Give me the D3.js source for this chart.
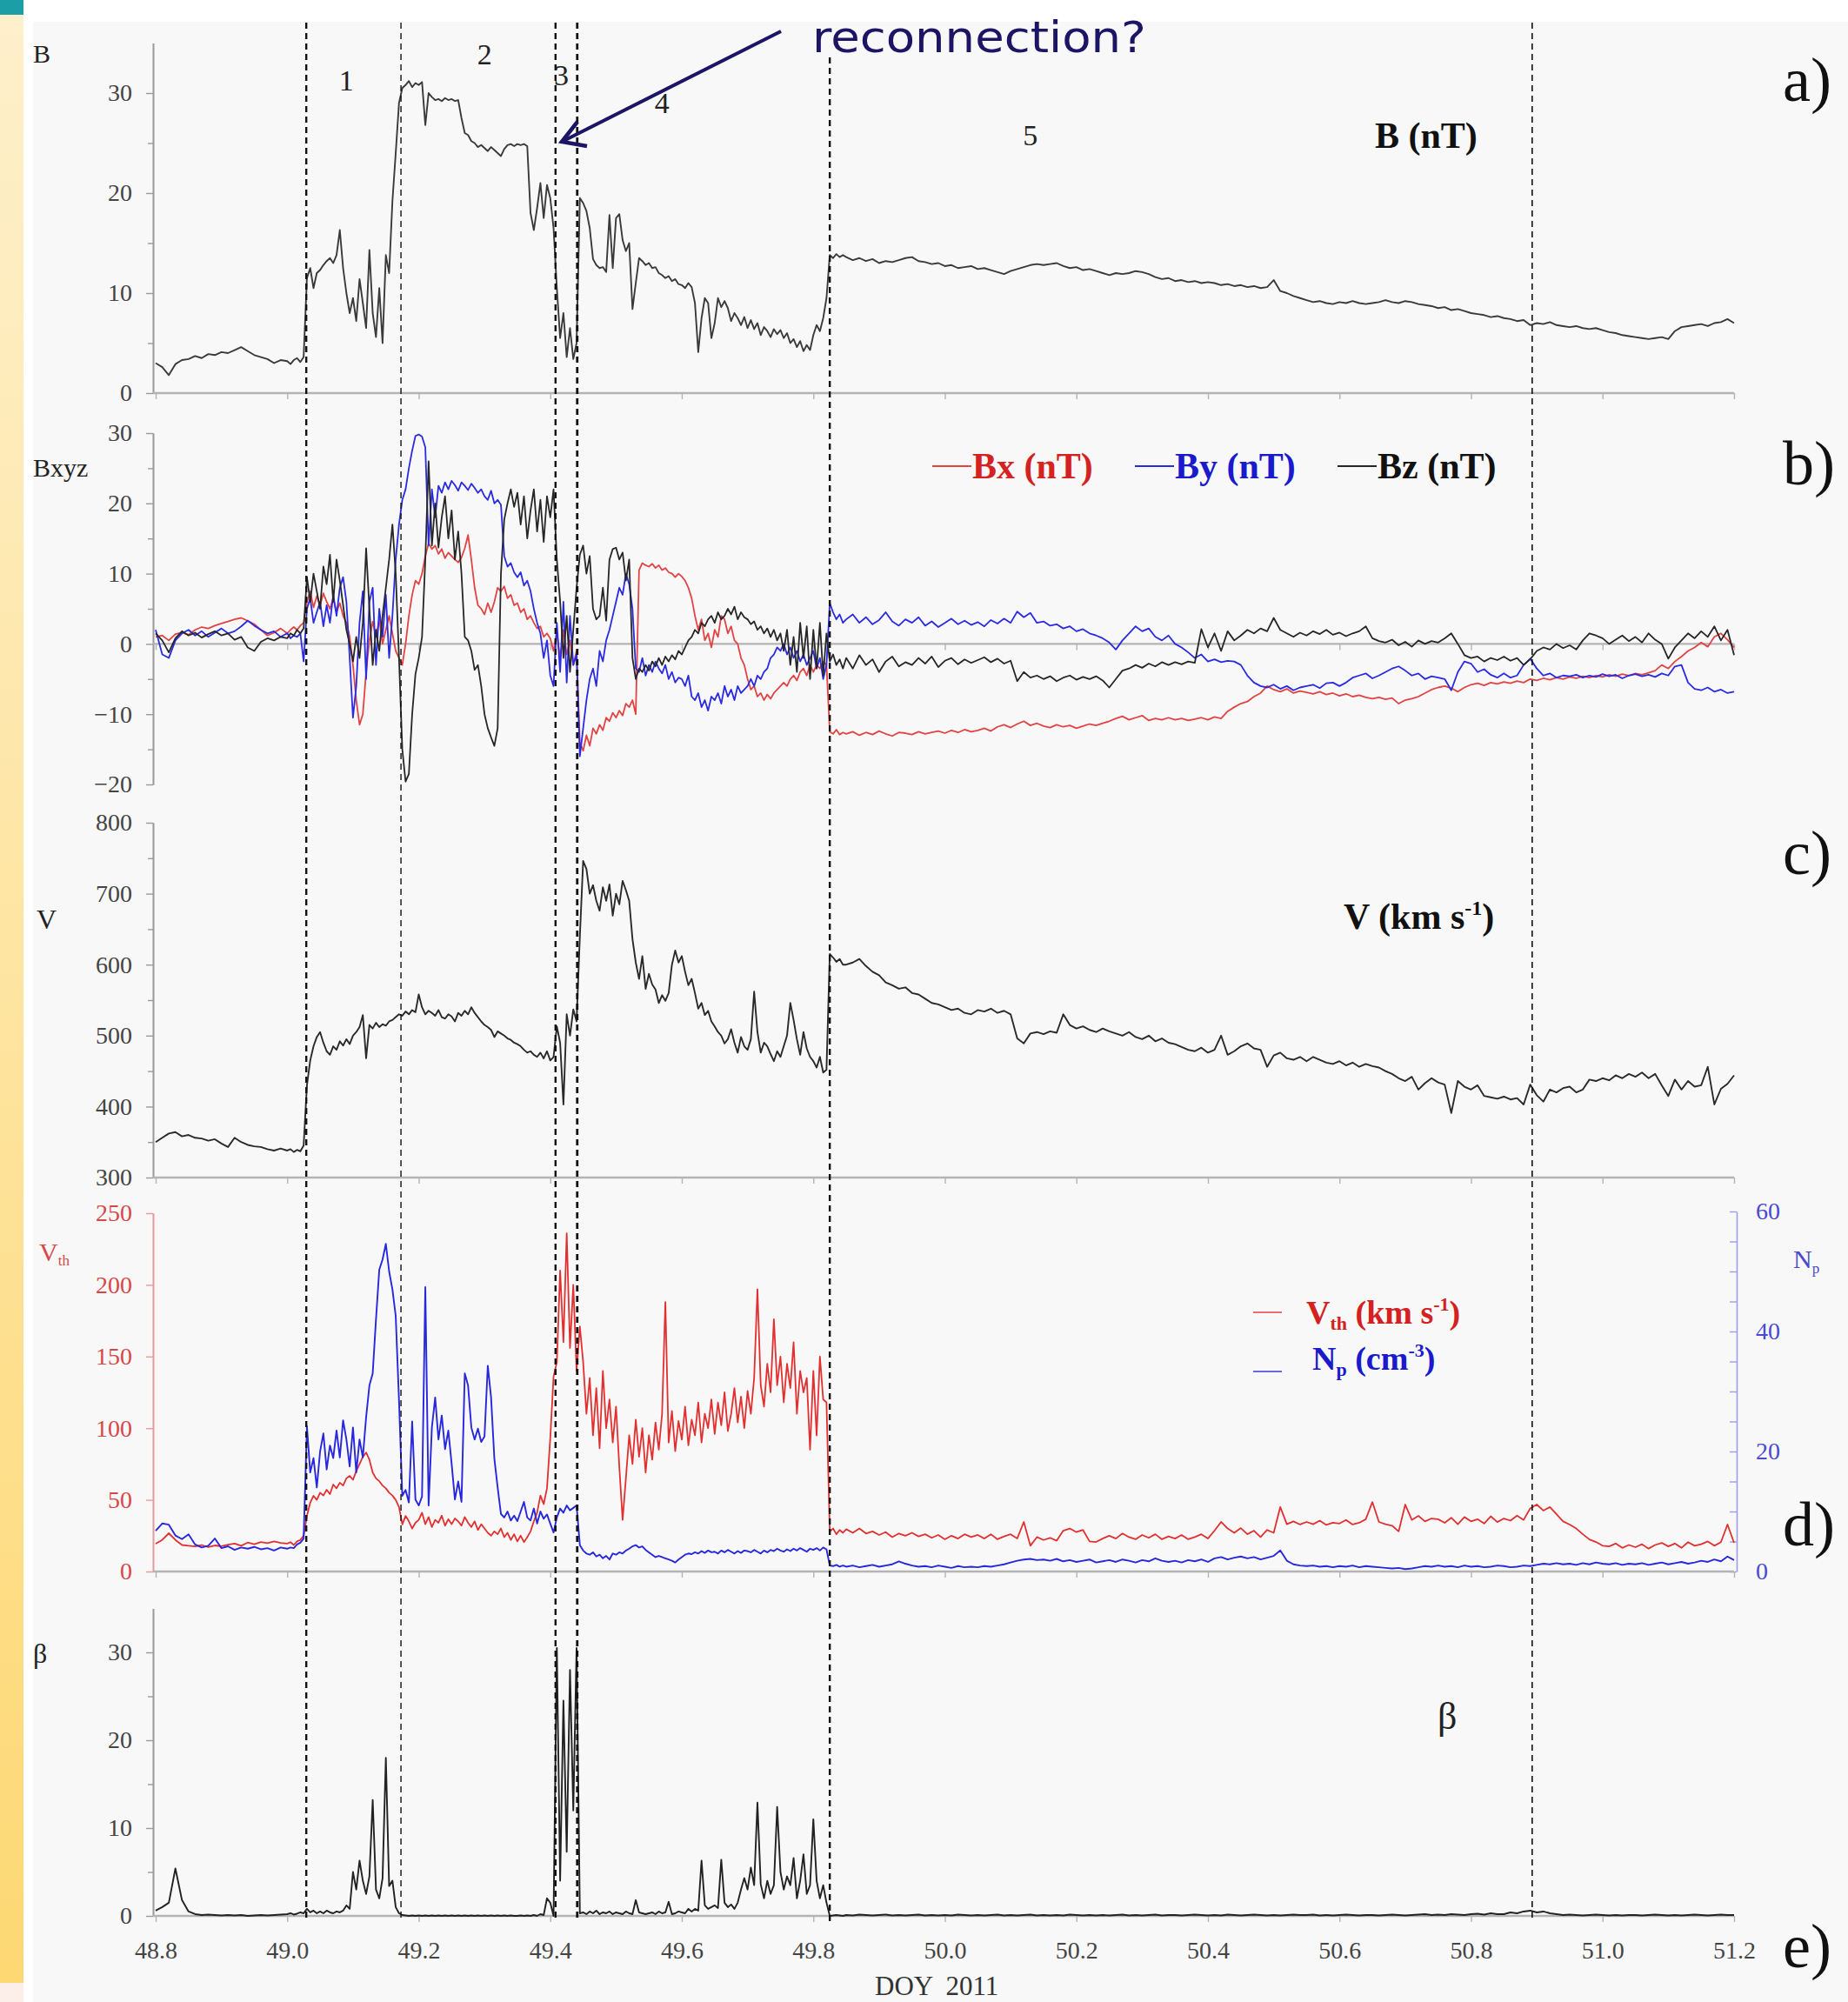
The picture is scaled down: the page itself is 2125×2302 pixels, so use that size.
<!DOCTYPE html>
<html>
<head>
<meta charset="utf-8">
<script src="https://cdn.jsdelivr.net/npm/d3@7"></script>
<style>
  body { margin: 0; background: #fff; }
  svg { display: block; }
  text { font-family: "Liberation Serif", "Times New Roman", serif; }
</style>
</head>
<body>
<svg id="chart" width="2125" height="2302"></svg>
<script>
// sample times, DOY 2011: 0.01 d before/after the event, 0.005 d inside it
const tPre = d3.range(20).map(i => 48.80 + i * 0.01);
const tEvent = d3.range(170).map(i => 49.00 + i * 0.005);
const tPost = d3.range(136).map(i => 49.85 + i * 0.01);
const doy = tPre.concat(tEvent, tPost);

const boundaries = [49.029, 49.173, 49.408, 49.441, 49.825, 50.893];
const regionNames = ["1", "2", "3", "4", "5"];
const regionDoy = [49.09, 49.30, 49.417, 49.57, 50.13];
const xTicks = d3.range(48.8, 51.21, 0.2);

// |B| (nT)
const B = [
  3.0, 2.6, 1.8, 2.9, 3.3, 3.4, 3.7, 3.5, 3.9, 3.8, 4.1, 4.0, 4.3, 4.6, 4.2, 3.8, 3.6, 3.4, 3.0, 3.3,
  3.2, 2.9, 3.3, 3.5, 3.1, 3.6, 11.5, 12.5, 10.5, 12.0,
  12.3, 12.8, 13.2, 13.5, 13.0, 13.8, 16.3, 12.5, 10.0, 8.0,
  9.5, 7.2, 11.4, 9.0, 6.5, 14.3, 8.0, 5.6, 10.5, 5.0,
  13.8, 12.0, 19.2, 24.0, 29.0, 30.5, 30.8, 31.2, 30.6, 31.0,
  30.8, 31.1, 26.8, 30.0, 29.6, 29.3, 29.4, 29.2, 29.5, 29.3,
  29.4, 29.2, 29.3, 27.5, 26.0, 25.8, 25.2, 25.0, 24.6, 24.8,
  24.5, 24.2, 24.6, 24.3, 24.0, 23.7, 24.4, 24.8, 24.9, 24.7,
  24.9, 24.8, 24.9, 24.7, 18.0, 16.3, 18.5, 21.0, 17.5, 20.8,
  19.5, 16.5, 10.5, 5.5, 8.0, 3.6, 6.5, 3.4, 5.0, 19.5,
  19.0, 18.2, 16.5, 13.4, 12.8, 12.5, 12.6, 12.1, 17.8, 12.5,
  17.5, 17.9, 15.3, 14.2, 15.0, 8.4, 11.0, 13.5, 13.2, 12.8,
  13.0, 12.5, 12.6, 12.0, 11.8, 11.5, 11.7, 11.2, 11.4, 10.9,
  10.8, 10.5, 11.0, 10.6, 9.0, 4.1, 7.5, 9.5, 9.0, 5.5,
  7.0, 9.5, 8.6, 9.2, 8.5, 7.2, 8.0, 7.5, 6.8, 7.6,
  6.5, 7.3, 6.4, 7.0, 5.8, 6.6, 6.2, 5.6, 6.4, 5.9,
  6.3, 5.5, 6.0, 5.0, 5.4, 4.6, 5.2, 4.2, 4.8, 4.3,
  5.8, 6.8, 6.2, 7.5, 9.5, 13.8, 13.5, 13.9, 13.6, 13.8,
  13.6, 13.3, 13.5, 13.2, 13.4, 13.0, 13.2, 13.1, 13.3, 13.5,
  13.6, 13.2, 13.1, 12.9, 13.0, 12.7, 12.8, 12.5, 12.6, 12.7,
  12.4, 12.5, 12.3, 12.1, 11.9, 12.2, 12.4, 12.6, 12.8, 12.9,
  12.8, 12.9, 13.0, 12.7, 12.5, 12.6, 12.3, 12.4, 12.2, 12.0,
  11.8, 12.0, 11.9, 12.0, 12.2, 12.1, 11.9, 11.6, 11.4, 11.5,
  11.2, 11.3, 11.1, 11.2, 11.0, 11.1, 11.0, 10.8, 10.9, 10.7,
  10.8, 10.6, 10.7, 10.5, 10.6, 11.3, 10.2, 10.0, 9.7, 9.5,
  9.3, 9.1, 9.2, 9.0, 8.9, 9.1, 9.0, 9.2, 9.0, 8.9,
  9.0, 9.1, 9.3, 9.1, 9.0, 9.2, 9.1, 8.9, 8.8, 8.7,
  8.5, 8.6, 8.3, 8.4, 8.2, 8.0, 7.9, 7.8, 7.6, 7.7,
  7.5, 7.4, 7.2, 7.3, 6.8, 7.0, 6.9, 7.1, 6.8, 6.7,
  6.6, 6.7, 6.5, 6.4, 6.5, 6.3, 6.1, 6.0, 5.8, 5.7,
  5.6, 5.5, 5.4, 5.5, 5.6, 5.4, 6.2, 6.6, 6.7, 6.8,
  6.9, 6.7, 7.0, 7.1, 7.4, 7.0
];

// Bx, By, Bz (nT)
const Bx = [
  1.0, 1.2, 0.5, 1.4, 1.6, 1.3, 2.0, 2.4, 2.2, 2.6, 2.9, 3.2, 3.5, 3.7, 3.3, 2.8, 2.0, 1.2, 1.6, 2.2,
  1.5, 2.0, 2.4, 2.0, 2.6, 3.0, 6.0, 7.5, 5.2, 6.8,
  5.5, 7.2, 6.0, 5.0, 6.5, 4.5, 5.8, 4.0, 3.0, 1.0,
  -3.0, -8.0, -11.5, -10.0, -4.0, 0.5, 3.2, 1.0, 3.5, 0.0,
  2.0, 4.0, 1.5, -1.0, -2.0, -3.0, 0.0, 4.0, 7.0, 9.0,
  8.5, 10.0, 12.5, 14.3, 13.5, 14.0, 12.8, 13.5, 12.2, 13.0,
  12.5, 12.0, 11.6, 12.3, 13.6, 15.5, 12.0, 8.0, 5.5, 5.0,
  4.2, 5.8, 4.5, 6.0, 8.0, 7.5, 8.2, 6.5, 7.0, 5.5,
  5.8, 4.5, 5.0, 3.5, 4.0, 3.0, 2.2, 2.5, 1.0, 1.5,
  0.8, -1.0, 1.5, -2.0, 2.0, -1.5, 0.5, -3.0, -1.0, -14.0,
  -15.2, -13.0, -14.5, -12.0, -12.8, -11.5, -12.3, -10.5, -11.0, -9.8,
  -10.5, -9.5, -10.2, -8.5, -9.0, -8.0, -10.0, 10.5, 11.5, 11.2,
  11.0, 11.4, 10.8, 11.2, 10.5, 10.8, 10.2, 10.0, 9.5, 10.0,
  9.6, 9.0, 8.0, 6.5, 4.0, 2.0, 3.5, 0.5, 1.5, -0.5,
  2.0, 1.0, 4.0, 3.5, 1.5, 2.5, 0.5, 0.0, -2.0, -3.0,
  -5.0, -6.5, -6.0, -7.5, -7.0, -8.0, -7.2, -7.8, -7.0, -6.5,
  -6.0, -5.5, -6.0, -5.0, -4.5, -5.2, -4.0, -3.5, -4.5, -3.0,
  -4.0, -3.0, -3.5, -2.5, -3.0, -12.5, -12.8, -12.2, -12.9, -12.6,
  -12.8, -12.5, -13.0, -12.6, -12.9, -12.4, -12.8, -13.1, -12.6, -12.7,
  -12.9, -12.5, -12.8, -12.6, -12.4, -12.7, -12.3, -12.6, -12.2, -12.5,
  -12.3, -12.0, -12.4, -11.8, -11.5, -11.9, -11.4, -11.0, -11.6, -11.3,
  -11.7, -11.9, -11.5, -11.8, -11.6, -12.0, -11.7, -11.4, -11.6, -11.3,
  -11.0, -10.6, -10.3, -10.8, -10.5, -10.2, -10.9, -10.6, -10.8, -10.5,
  -10.8, -10.6, -10.9, -10.7, -10.5, -10.8, -10.4, -10.6, -9.6, -9.0,
  -8.5, -8.2, -7.5, -7.0, -6.0, -6.5, -6.8, -6.4, -7.0, -6.7,
  -6.9, -7.1, -6.8, -7.2, -7.0, -7.4, -7.1, -7.5, -7.3, -7.6,
  -7.8, -7.6, -7.9, -7.7, -8.5, -8.0, -7.8, -7.5, -7.0, -6.5,
  -6.2, -6.0, -6.3, -6.8, -6.2, -5.8, -5.6, -5.9, -5.5, -5.7,
  -5.4, -5.6, -5.3, -5.5, -5.0, -5.2, -4.9, -5.1, -4.8, -5.0,
  -4.7, -4.9, -4.6, -4.8, -4.5, -4.7, -4.4, -4.6, -4.3, -4.5,
  -4.2, -4.4, -4.1, -3.8, -3.0, -3.5, -2.5, -1.8, -1.0, -0.5,
  0.2, -0.4, 1.0, 1.5, 0.6, -0.5
];

const By = [
  2.0, -1.5, -2.0, 0.5, 1.5, 2.0, 1.2, 1.8, 1.0, 1.6, 2.2, 1.5, 1.8, 2.5, 3.3, 2.6, 2.0, 1.5, 1.8, 1.0,
  1.5, 0.8, 1.2, 1.0, 1.5, -2.5, 5.0, 6.5, 3.0, 4.5,
  6.0, 2.5, 5.5, 3.0, 7.0, 4.0, 8.0, 9.5, 6.0, -2.0,
  -10.5, -6.0, 3.0, 7.5, -5.0, 6.0, 8.0, -3.0, 5.0, 1.0,
  7.0, -2.0, 4.0, 12.0, 17.0, 20.5, 22.0, 25.0, 27.5, 29.6,
  29.8, 29.5, 28.0, 14.0, 22.0, 18.0, 22.5, 21.5, 23.0, 22.0,
  23.2, 22.6, 21.8, 23.0, 22.5, 21.9, 22.8, 22.2, 21.5, 22.0,
  21.0, 20.5, 21.8, 20.0, 20.5, 19.8, 12.5, 11.0, 11.5, 10.2,
  9.5, 10.2, 8.3, 9.0, 7.5, 5.0, 3.0, 1.5, -2.0, 0.5,
  -4.5, -6.0, 3.0, -4.0, 6.0, -5.5, 4.0, -3.0, -1.5, -16.0,
  -12.0, -8.0, -5.0, -3.5, -6.0, -1.0, -2.5, 0.5, 2.0, 4.0,
  6.0, 8.0, 7.0, 10.0, 8.5, 5.0, -3.5, -4.0, -2.0, -4.5,
  -3.0, -4.0, -2.5, -3.5, -4.2, -3.0, -5.0, -4.0, -5.5, -4.8,
  -5.0, -6.0, -4.5, -7.5, -8.0, -7.0, -9.0, -8.0, -9.5, -7.5,
  -8.0, -7.0, -8.5, -6.0, -7.5, -6.5, -8.0, -6.0, -7.0, -6.5,
  -6.0, -5.0, -6.0, -4.5, -5.0, -4.0, -3.5, -2.0, -1.5, -0.5,
  -1.0, 0.0, -1.5, -0.5, -2.0, -1.0, -2.5, -1.5, -3.0, -2.0,
  -1.0, -3.5, -2.0, -5.0, -3.0, 5.8, 4.5, 3.5, 4.2, 3.0,
  3.5, 4.2, 3.0, 3.8, 2.8, 3.4, 4.5, 3.2, 2.6, 3.5,
  3.0, 3.8, 2.6, 3.2, 2.4, 3.0, 3.6, 2.8, 3.3, 2.7,
  3.1, 2.5, 3.4, 2.9, 3.6, 3.0, 4.6, 3.8, 4.4, 3.0,
  3.2, 2.6, 2.8, 2.2, 2.5, 1.8, 2.1, 1.5, 1.2, 0.8,
  0.2, -0.8, 0.5, 1.5, 2.5, 1.8, 2.2, 1.0, 0.5, 1.2,
  0.0, -0.5, -1.2, -2.0, -1.5, -2.5, -2.2, -2.6, -2.4, -2.5,
  -3.0, -4.5, -5.5, -6.0, -6.2, -5.8, -6.4, -6.0, -6.6, -6.2,
  -6.0, -5.8, -6.3, -5.6, -5.5, -6.0, -5.5, -4.8, -4.5, -4.2,
  -4.9, -4.5, -4.0, -3.5, -3.2, -3.8, -4.5, -4.2, -5.0, -4.6,
  -4.8, -5.0, -6.6, -4.0, -2.5, -2.8, -4.0, -3.6, -4.4, -4.8,
  -4.2, -4.8, -4.5, -3.0, -2.1, -3.5, -4.5, -4.2, -4.8, -4.5,
  -4.6, -4.4, -4.8, -4.5, -4.7, -4.3, -4.6, -4.4, -4.9, -4.5,
  -4.3, -4.6, -4.4, -4.7, -4.2, -4.5, -3.2, -3.0, -5.5, -6.4,
  -6.6, -6.2, -6.8, -6.5, -7.0, -6.8
];

const Bz = [
  1.5, 0.5, -1.2, 0.8, 1.8, 1.2, 1.6, 0.9, 1.4, 1.8, 1.2, 1.5, 0.6, 1.0, -0.5, -1.0, 0.3, 0.8, 0.5, 1.0,
  0.8, 1.5, 1.2, 2.0, 1.5, 2.2, 9.5, 6.0, 10.0, 7.5,
  5.0, 11.0, 8.5, 12.7, 6.0, 12.0, 9.0, 5.5, 2.0, 0.0,
  -2.5, 1.0, -2.0, 3.0, 13.6, 5.0, -3.0, 2.0, -1.0, 4.0,
  8.0, 12.0, 17.0, 10.0, -2.0, -15.0, -19.6, -18.5, -10.0, -4.3,
  -2.0, 1.0, 12.0, 26.0, 14.0, 20.0, 13.7, 18.0, 21.0, 15.0,
  19.0, 12.0, 16.0, 10.0, 1.0, 0.5, -1.0, -3.7, -3.0, -6.0,
  -10.0, -12.0, -13.3, -14.5, -12.0, 10.0, 17.7, 20.0, 22.0, 19.5,
  21.5, 17.0, 21.0, 15.0, 19.0, 22.0, 16.0, 20.5, 14.5, 21.0,
  18.0, 22.0, 12.0, 6.0, -2.0, 4.0, -4.0, 2.0, 8.0, 12.7,
  14.0, 10.0, 12.5, 5.0, 3.5, 4.0, 8.0, 3.3, 12.0, 13.5,
  13.7, 12.0, 13.0, 9.0, 12.0, -2.0, -5.0, -3.5, -4.0, -3.0,
  -3.8, -2.5, -3.2, -2.0, -3.0, -1.8, -2.5, -1.6, -2.2, -1.0,
  -1.5, -0.5, 0.5, 1.0, 2.0, 1.5, 3.0, 2.5, 3.5, 4.0,
  3.0, 4.5, 3.5, 4.0, 5.0, 4.2, 5.3, 3.5, 4.5, 3.8,
  3.5, 2.8, 3.2, 2.0, 2.5, 1.5, 2.2, 1.0, 2.0, 0.5,
  1.5, -1.0, 2.0, -3.0, 1.0, -4.0, 3.0, -2.0, 2.5, -5.0,
  2.0, -3.5, 3.0, -4.5, 1.5, -2.5, -1.5, -3.0, -2.2, -3.5,
  -2.0, -3.5, -1.6, -3.0, -2.2, -4.0, -2.5, -1.8, -3.2, -2.6,
  -3.0, -2.0, -2.8, -1.8, -3.3, -2.4, -2.0, -2.9, -2.2, -2.7,
  -2.3, -1.9, -2.6, -2.1, -2.8, -2.4, -5.3, -4.0, -4.8, -4.5,
  -5.0, -4.6, -5.3, -4.8, -4.5, -5.1, -4.7, -5.0, -4.6, -5.2,
  -6.2, -5.0, -3.8, -3.5, -3.0, -3.4, -2.8, -3.2, -2.6, -3.0,
  -2.6, -2.9, -2.5, -2.7, 2.1, -0.5, 1.5, -1.0, 1.8, 0.5,
  1.2, 2.0, 1.5, 2.2, 1.8, 3.7, 2.0, 1.5, 1.0, 1.6,
  1.2, 1.8, 1.4, 2.0, 1.3, 1.6, 1.1, 1.5, 1.8, 2.5,
  0.8, 0.4, 0.2, 0.6, -0.2, 0.3, -0.4, 0.5, 0.0, 0.4,
  0.2, 0.8, 1.5, 0.0, -1.6, -2.0, -1.8, -2.5, -2.0, -2.3,
  -1.8, -2.4, -2.0, -3.0, -2.2, -1.0, -0.5, -0.8, 0.0, -0.6,
  -0.2, -0.8, 0.5, 1.5, 1.2, 0.8, 0.0, 0.6, 1.2, 0.4,
  1.0, 0.2, 1.5, 0.6, 0.0, -2.1, -0.5, 0.5, 1.5, 0.8,
  1.8, 1.0, 2.5, 0.5, 2.0, -1.6
];

// bulk speed V (km/s)
const V = [
  350, 356, 362, 364, 358, 360, 356, 355, 352, 354, 348, 343, 356, 350, 346, 344, 343, 340, 338, 341,
  338, 340, 336, 339, 337, 345, 430, 465, 485, 498,
  505, 490, 478, 473, 485, 480, 492, 486, 495, 488,
  500, 505, 512, 529, 468, 515, 510, 518, 512, 516,
  514, 520, 522, 526, 530, 528, 534, 530, 536, 533,
  558, 540, 530, 535, 532, 528, 536, 526, 524, 530,
  527, 520, 532, 528, 535, 530, 540, 532, 526, 520,
  515, 512, 508, 498, 506, 503, 500, 496, 494, 490,
  488, 485, 480, 476, 478, 473, 470, 476, 468, 478,
  465, 470, 513, 490, 403, 530, 500, 537, 520, 640,
  746, 735, 700, 712, 690, 676, 709, 690, 713, 669,
  700, 685, 718, 705, 690, 636, 603, 580, 612, 566,
  587, 572, 565, 546, 557, 549, 560, 600, 620, 603,
  612, 590, 571, 580, 560, 538, 546, 529, 535, 520,
  513, 505, 500, 489, 495, 509, 490, 476, 498, 485,
  480, 495, 562, 505, 476, 490, 485, 474, 464, 478,
  470, 485, 500, 546, 522, 495, 473, 505, 482, 470,
  464, 455, 470, 448, 452, 615, 610, 604, 608, 600,
  600, 603, 608, 598, 590, 585, 575, 571, 566, 568,
  560, 558, 552, 546, 544, 540, 536, 538, 532, 530,
  536, 534, 538, 532, 535, 530, 496, 489, 503, 505,
  502, 506, 504, 530, 515, 510, 513, 508, 505, 510,
  506, 503, 500, 505, 498, 495, 500, 492, 496, 490,
  488, 484, 480, 478, 483, 476, 480, 500, 473, 478,
  485, 489, 482, 480, 456, 472, 476, 468, 466, 470,
  464, 470, 466, 462, 460, 464, 458, 462, 456, 460,
  457, 455, 450, 446, 440, 436, 442, 424, 433, 440,
  434, 431, 391, 436, 428, 424, 430, 415, 413, 411,
  414, 410, 412, 403, 431, 416, 407, 424, 420, 426,
  428, 420, 424, 438, 436, 440, 437, 444, 440, 446,
  442, 448, 440, 446, 430, 415, 438, 424, 436, 428,
  430, 456, 403, 425, 432, 444
];

// thermal speed Vth (km/s) and proton density Np (cm^-3)
const Vth = [
  19.4, 22.0, 26.7, 22.0, 18.5, 18.0, 17.5, 18.5, 17.0, 18.2, 17.6, 18.8, 19.5, 18.0, 20.2, 19.0, 20.5, 19.8, 21.0, 20.0,
  19.5, 20.5, 18.5, 21.0, 22.0, 25.0, 38.8, 48.0, 52.8, 50.0,
  55.0, 53.0, 57.0, 54.0, 60.7, 58.0, 62.0, 60.0, 65.0, 66.7,
  64.0, 70.0, 75.0, 80.0, 83.0, 78.0, 69.0, 65.0, 63.0, 60.0,
  58.0, 55.0, 53.0, 50.0, 45.0, 32.8, 38.8, 35.0, 30.0, 34.0,
  36.0, 41.0, 33.0, 38.0, 31.0, 36.0, 34.0, 39.0, 32.0, 36.5,
  33.0, 37.0, 35.0, 32.0, 38.0, 34.0, 31.0, 35.0, 29.0, 33.0,
  30.0, 27.0, 25.0, 28.0, 26.0, 30.0, 24.0, 27.0, 22.0, 26.0,
  21.0, 25.0, 20.5, 24.0, 28.0, 35.0, 41.0, 53.0, 47.0, 58.0,
  93, 136, 146, 210, 160, 236, 156, 200, 140, 171,
  146, 110, 135, 95, 128, 86, 140, 100, 120, 90,
  115, 73, 36, 65, 95, 75, 106, 80, 100, 69,
  95, 78, 104, 85, 110, 188, 90, 112, 84, 105,
  92, 115, 88, 106, 95, 118, 90, 110, 100, 120,
  96, 118, 102, 125, 98, 110, 128, 104, 122, 100,
  126, 110, 135, 197, 130, 115, 145, 125, 176, 130,
  150, 118, 145, 128, 160, 110, 140, 125, 135, 85,
  140, 95, 150, 120, 118, 28, 30, 26, 29, 27,
  29.5, 27.0, 30.0, 26.5, 28.0, 25.5, 27.5, 24.0, 26.5, 25.0,
  27.0, 24.5, 26.0, 23.5, 25.5, 22.5, 25.0, 23.0, 26.0, 24.0,
  25.5, 23.0, 26.0, 22.5, 24.5, 26.0, 23.0, 34.6, 18.0, 24.0,
  22.0, 23.5, 21.5, 28.5, 30.0, 27.5, 29.0, 21.0, 20.6, 23.0,
  25.0, 23.0, 26.5, 24.0, 22.5, 25.5, 23.5, 26.0, 22.5, 24.5,
  23.0, 25.5, 22.5, 24.0, 26.0, 23.0, 28.5, 34.6, 30.0, 27.0,
  30.3, 26.0, 28.5, 24.0, 29.0, 27.0, 45.0, 33.0, 35.0, 32.8,
  34.6, 33.0, 35.5, 32.5, 34.0, 33.5, 36.0, 32.8, 34.0, 36.5,
  48.5, 34.6, 33.0, 32.0, 28.0, 46.7, 36.0, 38.8, 35.0, 37.0,
  36.5, 34.0, 37.5, 33.0, 38.0, 35.0, 36.5, 33.5, 38.5, 34.5,
  37.0, 35.5, 39.0, 36.0, 44.0, 46.7, 42.5, 45.0, 40.0, 35.0,
  32.8, 30.0, 26.0, 22.4, 20.6, 18.0, 17.5, 19.5, 16.5, 18.5,
  17.0, 19.0, 16.0, 18.5, 20.0, 17.5, 19.5, 16.5, 20.5, 18.0,
  19.0, 21.0, 18.0, 20.5, 32.8, 20.0
];

const Np = [
  6.8, 8.0, 7.8, 6.0, 5.4, 6.2, 4.5, 4.0, 4.3, 5.5, 3.9, 4.2, 3.6, 4.0, 3.8, 4.1, 3.7, 3.9, 3.5, 4.0,
  3.8, 4.0, 3.9, 4.5, 4.8, 5.5, 24.2, 16.5, 18.9, 14.0,
  20.0, 23.0, 17.0, 21.0, 18.9, 23.5, 19.0, 25.2, 22.0, 17.5,
  24.0, 16.5, 22.0, 19.0, 25.7, 31.0, 33.0, 42.0, 50.3, 52.0,
  54.6, 50.0, 47.0, 42.6, 28.5, 12.6, 13.6, 11.5, 25.0, 12.0,
  11.0, 12.5, 47.4, 11.0, 24.0, 29.0, 22.0, 26.0, 20.4, 23.5,
  18.0, 12.0, 15.0, 11.6, 33.0, 31.0, 24.0, 22.0, 23.8, 21.6,
  22.5, 34.3, 29.0, 18.8, 14.0, 9.6, 9.0, 10.0, 8.5, 9.3,
  8.4, 10.0, 11.6, 9.0, 8.5, 10.5, 8.0, 10.0, 8.8, 9.5,
  8.0, 6.5, 9.0, 10.5, 9.8, 11.0, 10.2, 10.6, 11.0, 4.4,
  3.5, 3.0, 2.8, 3.2, 2.5, 2.8, 2.2, 2.6, 2.0, 3.0,
  2.8, 3.2, 3.0, 3.5, 3.8, 4.2, 4.4, 4.0, 4.2, 3.6,
  3.2, 2.8, 2.4, 2.6, 2.4, 2.2, 2.0, 1.8, 1.5, 2.0,
  2.4, 2.8, 3.0, 2.9, 3.2, 3.0, 3.4, 3.1, 3.5, 3.2,
  3.3, 3.0, 3.5, 3.2, 3.6, 3.3, 3.0, 3.4, 3.1, 3.5,
  3.4, 3.2, 3.6, 3.3, 3.0, 3.5, 3.2, 3.6, 3.4, 3.8,
  3.5, 3.3, 3.7, 3.4, 3.8, 3.5, 3.9, 3.6, 3.3, 3.8,
  3.6, 3.9, 3.5, 4.0, 3.7, 1.0, 0.9, 1.1, 0.8, 1.0,
  0.8, 1.0, 0.7, 0.9, 1.1, 0.8, 1.0, 1.2, 1.7, 1.3,
  1.0, 0.8, 0.9, 0.7, 1.0, 0.8, 0.6, 0.9, 0.7, 0.8,
  0.7, 0.9, 0.8, 1.0, 1.2, 1.5, 1.8, 2.0, 2.1, 1.9,
  2.0, 1.8, 2.1, 1.7, 1.9, 1.6, 1.8, 2.0, 1.5, 1.7,
  1.9, 1.6, 2.0, 1.8, 1.5, 1.9, 1.7, 2.2, 1.8, 1.6,
  1.8, 1.5, 1.9, 1.7, 2.0, 1.6, 2.2, 2.4, 2.0, 2.3,
  2.5, 2.2, 2.4, 2.0, 2.3, 2.6, 3.5, 1.8, 1.2, 1.0,
  0.9, 1.0, 0.8, 0.9, 0.7, 0.9, 0.8, 1.0, 0.7, 0.9,
  0.8, 0.7, 0.6, 0.5, 0.6, 0.4, 0.5, 0.7, 0.9, 0.8,
  1.0, 0.8, 0.9, 0.7, 1.0, 0.8, 0.9, 0.7, 0.8, 1.0,
  0.9, 0.7, 0.8, 1.0, 0.9, 1.1, 1.3, 1.2, 1.4, 1.2,
  1.3, 1.1, 1.4, 1.2, 1.5, 1.3, 1.2, 1.4, 1.1, 1.3,
  1.2, 1.4, 1.1, 1.3, 1.5, 1.2, 1.4, 1.6, 1.3, 1.5,
  1.8, 1.6, 2.0, 1.7, 2.5, 1.9
];

// plasma beta
const beta = [
  0.6, 1.0, 1.5, 5.4, 1.8, 0.5, 0.2, 0.1, 0.15, 0.1, 0.05, 0.1, 0.05, 0.1, 0.0, 0.05, 0.1, 0.05, 0.1, 0.15,
  0.2, 0.3, 0.15, 0.25, 0.4, 0.3, 0.8, 0.4, 0.6, 0.3,
  0.5, 0.3, 0.6, 0.4, 0.3, 0.5, 0.4, 0.6, 1.2, 0.8,
  5.0, 3.0, 6.3, 4.0, 2.5, 4.5, 13.2, 3.0, 2.0, 4.3,
  18.0, 3.4, 4.0, 1.0, 0.3, 0.1, 0.05, 0.0, 0.05, 0.0,
  0.05, 0.0, 0.05, 0.0, 0.05, 0.0, 0.05, 0.0, 0.05, 0.0,
  0.05, 0.0, 0.05, 0.0, 0.05, 0.0, 0.05, 0.0, 0.05, 0.0,
  0.05, 0.0, 0.05, 0.0, 0.05, 0.0, 0.05, 0.0, 0.05, 0.0,
  0.0, 0.05, 0.0, 0.05, 0.0, 0.1, 0.0, 0.2, 0.1, 2.0,
  1.5, 0.0, 30.5, 4.0, 24.5, 7.3, 28.0, 12.0, 30.5, 0.3,
  0.4, 0.2, 0.5, 0.3, 0.6, 0.2, 0.4, 0.3, 0.5, 0.2,
  0.4, 0.3, 0.2, 0.5, 0.3, 0.2, 1.8, 0.4, 0.3, 0.2,
  0.3, 0.4, 0.2, 0.5, 0.3, 0.4, 1.6, 0.2, 0.3, 0.5,
  0.4, 0.3, 0.8, 0.5, 0.8, 0.6, 6.3, 1.2, 0.8, 1.0,
  1.2, 0.9, 6.4, 1.5, 1.0, 1.3, 0.8, 1.5, 3.0, 4.3,
  3.0, 5.5, 3.5, 12.9, 3.6, 2.0, 4.0, 2.5, 3.5, 12.4,
  5.0, 3.0, 4.5, 3.5, 6.6, 2.0, 4.0, 7.0, 2.5, 3.5,
  11.0, 4.0, 2.0, 3.5, 1.5, 0.0, 0.05, 0.1, 0.05, 0.0,
  0.1, 0.05, 0.15, 0.1, 0.05, 0.1, 0.15, 0.05, 0.1, 0.05,
  0.1, 0.15, 0.05, 0.1, 0.05, 0.1, 0.05, 0.15, 0.1, 0.05,
  0.1, 0.05, 0.1, 0.15, 0.05, 0.1, 0.05, 0.1, 0.15, 0.05,
  0.1, 0.05, 0.1, 0.05, 0.15, 0.1, 0.05, 0.1, 0.05, 0.1,
  0.05, 0.1, 0.15, 0.05, 0.1, 0.05, 0.1, 0.15, 0.05, 0.1,
  0.1, 0.05, 0.1, 0.15, 0.1, 0.05, 0.1, 0.05, 0.15, 0.1,
  0.05, 0.1, 0.15, 0.1, 0.05, 0.1, 0.05, 0.1, 0.15, 0.1,
  0.1, 0.15, 0.05, 0.1, 0.05, 0.1, 0.15, 0.1, 0.05, 0.1,
  0.1, 0.05, 0.1, 0.15, 0.1, 0.05, 0.1, 0.15, 0.2, 0.1,
  0.15, 0.1, 0.2, 0.15, 0.1, 0.2, 0.25, 0.15, 0.3, 0.2,
  0.2, 0.4, 0.3, 0.5, 0.6, 0.4, 0.5, 0.3, 0.2, 0.1,
  0.15, 0.1, 0.05, 0.1, 0.15, 0.1, 0.05, 0.1, 0.05, 0.1,
  0.1, 0.05, 0.1, 0.15, 0.1, 0.05, 0.1, 0.05, 0.1, 0.15,
  0.1, 0.05, 0.1, 0.15, 0.1, 0.1
];

[B, Bx, By, Bz, V, Vth, Np, beta].forEach((s, k) => {
  if (s.length !== doy.length) console.warn("series", k, "has", s.length, "values, expected", doy.length);
});

const svg = d3.select("#chart");
const W = 2125, H = 2302;

// page furniture: the slide strip on the left and the figure backdrop
const defs = svg.append("defs");
const grad = defs.append("linearGradient").attr("id", "strip").attr("x1", 0).attr("y1", 0).attr("x2", 0).attr("y2", 1);
grad.append("stop").attr("offset", "0%").attr("stop-color", "#fef0cc");
grad.append("stop").attr("offset", "100%").attr("stop-color", "#fdd873");
svg.append("rect").attr("x", 0).attr("y", 0).attr("width", W).attr("height", H).attr("fill", "#fff");
svg.append("rect").attr("x", 38).attr("y", 25).attr("width", W - 38).attr("height", H - 25).attr("fill", "#f8f8f8");
svg.append("rect").attr("x", 0).attr("y", 0).attr("width", 27).attr("height", 2280).attr("fill", "url(#strip)");
svg.append("rect").attr("x", 0).attr("y", 2280).attr("width", 27).attr("height", 22).attr("fill", "#fcefe9");
svg.append("rect").attr("x", 0).attr("y", 0).attr("width", 27).attr("height", 17).attr("fill", "#1b9ea6");

const x = d3.scaleLinear().domain([48.8, 51.2]).range([179, 1994]);
const axisX = 176;

const yB = d3.scaleLinear().domain([0, 35]).range([452, 49.5]);
const yBxyz = d3.scaleLinear().domain([-20, 30]).range([902, 498]);
const yV = d3.scaleLinear().domain([300, 800]).range([1354, 946]);
const yVth = d3.scaleLinear().domain([0, 250]).range([1807, 1395]);
const yNp = d3.scaleLinear().domain([0, 60]).range([1807, 1393]);
const yBeta = d3.scaleLinear().domain([0, 35]).range([2203, 1849.5]);

function styleAxis(g, lineColor, textColor, size) {
  g.attr("font-size", size || 28);
  g.select(".domain").attr("stroke", lineColor).attr("stroke-width", 1.6);
  g.selectAll(".tick line").attr("stroke", lineColor).attr("stroke-width", 1.4);
  g.selectAll(".tick text").attr("fill", textColor);
}

function leftAxis(y, major, minor, lineColor, textColor) {
  const gm = svg.append("g").attr("transform", `translate(${axisX},0)`)
    .call(d3.axisLeft(y).tickValues(minor).tickSize(6).tickSizeOuter(0).tickFormat(""));
  styleAxis(gm, lineColor, textColor);
  const g = svg.append("g").attr("transform", `translate(${axisX},0)`)
    .call(d3.axisLeft(y).tickValues(major).tickSize(8).tickSizeOuter(0).tickPadding(16));
  styleAxis(g, lineColor, textColor);
}

function timeAxis(yPos, withLabels) {
  const ax = d3.axisBottom(x).tickValues(xTicks).tickSize(7).tickSizeOuter(0).tickPadding(22);
  ax.tickFormat(withLabels ? d3.format(".1f") : "");
  const g = svg.append("g").attr("transform", `translate(0,${yPos})`).call(ax);
  styleAxis(g, "#b4b4b4", "#444");
  g.select(".domain").attr("stroke-width", 2.4).attr("d", `M${axisX},0H${x(51.2)}`);
}

leftAxis(yB, [0, 10, 20, 30], [5, 15, 25], "#9a9a9a", "#444");
leftAxis(yBxyz, [-20, -10, 0, 10, 20, 30], [-15, -5, 5, 15, 25], "#9a9a9a", "#444");
leftAxis(yV, d3.range(300, 801, 100), d3.range(350, 800, 100), "#9a9a9a", "#444");
leftAxis(yVth, d3.range(0, 251, 50), [], "#e79a9a", "#d64848");
leftAxis(yBeta, [0, 10, 20, 30], [5, 15, 25], "#9a9a9a", "#444");

const gNp = svg.append("g").attr("transform", `translate(${x(51.2) + 3},0)`)
  .call(d3.axisRight(yNp).tickValues(d3.range(0, 61, 5)).tickSizeInner(-8).tickSizeOuter(0).tickPadding(22)
    .tickFormat(d => d % 20 === 0 ? d : ""));
styleAxis(gNp, "#9d9de8", "#4a4ad0");

timeAxis(yB(0), false);
timeAxis(yBxyz(0), false);
timeAxis(yV(300), false);
timeAxis(yVth(0), false);
timeAxis(yBeta(0), true);

function drawSeries(values, y, color, width) {
  const pts = doy.map((t, i) => [t, values[i]]).filter(d => d[1] != null);
  svg.append("path").datum(pts)
    .attr("fill", "none").attr("stroke", color).attr("stroke-width", width)
    .attr("stroke-linejoin", "round")
    .attr("d", d3.line().x(d => x(d[0])).y(d => y(d[1])));
}

drawSeries(B, yB, "#3a3a3a", 1.9);
drawSeries(Bx, yBxyz, "#e24444", 1.8);
drawSeries(By, yBxyz, "#2a2ae2", 1.8);
drawSeries(Bz, yBxyz, "#262626", 1.8);
drawSeries(V, yV, "#2a2a2a", 1.9);
drawSeries(Vth, yVth, "#e23030", 1.8);
drawSeries(Np, yNp, "#2727dd", 1.9);
drawSeries(beta, yBeta, "#222", 1.9);

// boundaries of the regions
const dashTop = [26, 26, 26, 26, 66, 26];
const dashWidth = [2.4, 1.4, 2.4, 2.8, 2.4, 1.6];
svg.append("g").selectAll("line").data(boundaries).join("line")
  .attr("x1", d => x(d)).attr("x2", d => x(d))
  .attr("y1", (d, i) => dashTop[i]).attr("y2", 2210)
  .attr("stroke", "#111").attr("stroke-width", (d, i) => dashWidth[i])
  .attr("stroke-dasharray", "7,5");

// region numbers
const regionBase = [104, 74, 98, 130, 167];
svg.append("g").selectAll("text").data(regionNames).join("text")
  .attr("x", (d, i) => x(regionDoy[i])).attr("y", (d, i) => regionBase[i])
  .attr("text-anchor", "middle").attr("font-size", 34).attr("fill", "#222")
  .text(d => d);

// annotation
svg.append("text").attr("x", 934).attr("y", 60)
  .style("font-family", "'DejaVu Sans', Verdana, sans-serif").attr("font-size", 50)
  .attr("fill", "#1c1464").attr("textLength", 384).attr("lengthAdjust", "spacingAndGlyphs")
  .text("reconnection?");
svg.append("line").attr("x1", 898).attr("y1", 36).attr("x2", 648).attr("y2", 162)
  .attr("stroke", "#1c1464").attr("stroke-width", 4);
svg.append("path").attr("d", "M675,168 L646,163 L664,140")
  .attr("fill", "none").attr("stroke", "#1c1464").attr("stroke-width", 4.5);

// y labels
function label(txt, xPos, yPos, size, color, weight) {
  return svg.append("text").attr("x", xPos).attr("y", yPos)
    .attr("font-size", size).attr("fill", color || "#222")
    .attr("font-weight", weight || "normal").text(txt);
}
label("B", 38, 72, 30);
label("Bxyz", 38, 548, 30);
label("V", 42, 1068, 32);
const vthLab = label("V", 45, 1450, 30, "#d64848");
vthLab.append("tspan").attr("font-size", 17).attr("dy", 5).text("th");
label("\u03b2", 38, 1912, 32);
const npLab = label("N", 2062, 1458, 30, "#4a4ad0");
npLab.append("tspan").attr("font-size", 17).attr("dy", 6).text("p");

// panel titles
label("B (nT)", 1581, 170, 42, "#111", "bold");
const vt = label("V (km s", 1545, 1068, 42, "#111", "bold");
vt.append("tspan").attr("font-size", 24).attr("dy", -16).text("-1");
vt.append("tspan").attr("dy", 16).text(")");
label("\u03b2", 1653, 1988, 44, "#222");

// Bxyz legend
const legB = [
  { name: "Bx (nT)", color: "#e24444", text: "#d42222", x0: 1072 },
  { name: "By (nT)", color: "#2a2ae2", text: "#1a1acc", x0: 1305 },
  { name: "Bz (nT)", color: "#262626", text: "#111", x0: 1538 }
];
legB.forEach(d => {
  svg.append("line").attr("x1", d.x0).attr("x2", d.x0 + 45).attr("y1", 536).attr("y2", 536)
    .attr("stroke", d.color).attr("stroke-width", 2);
  label(d.name, d.x0 + 46, 550, 42, d.text, "bold");
});

// Vth / Np legend
svg.append("line").attr("x1", 1441).attr("x2", 1474).attr("y1", 1509).attr("y2", 1509)
  .attr("stroke", "#e87070").attr("stroke-width", 2);
const lv = label("V", 1502, 1522, 38, "#d42020", "bold");
lv.append("tspan").attr("font-size", 22).attr("dy", 7).text("th");
lv.append("tspan").attr("dy", -7).text(" (km s");
lv.append("tspan").attr("font-size", 22).attr("dy", -15).text("-1");
lv.append("tspan").attr("dy", 15).text(")");
svg.append("line").attr("x1", 1441).attr("x2", 1474).attr("y1", 1577).attr("y2", 1577)
  .attr("stroke", "#6a6ae0").attr("stroke-width", 2);
const ln = label("N", 1509, 1575, 38, "#1a1acc", "bold");
ln.append("tspan").attr("font-size", 22).attr("dy", 7).text("p");
ln.append("tspan").attr("dy", -7).text(" (cm");
ln.append("tspan").attr("font-size", 22).attr("dy", -15).text("-3");
ln.append("tspan").attr("dy", 15).text(")");

// panel letters
const letters = ["a)", "b)", "c)", "d)", "e)"];
const letterBase = [116, 557, 1005, 1777, 2262];
svg.append("g").selectAll("text").data(letters).join("text")
  .attr("x", 2050).attr("y", (d, i) => letterBase[i])
  .attr("font-size", 72).attr("fill", "#111").text(d => d);

// x label
label("DOY  2011", 1006, 2294, 31, "#333").style("white-space", "pre");
</script>
</body>
</html>
